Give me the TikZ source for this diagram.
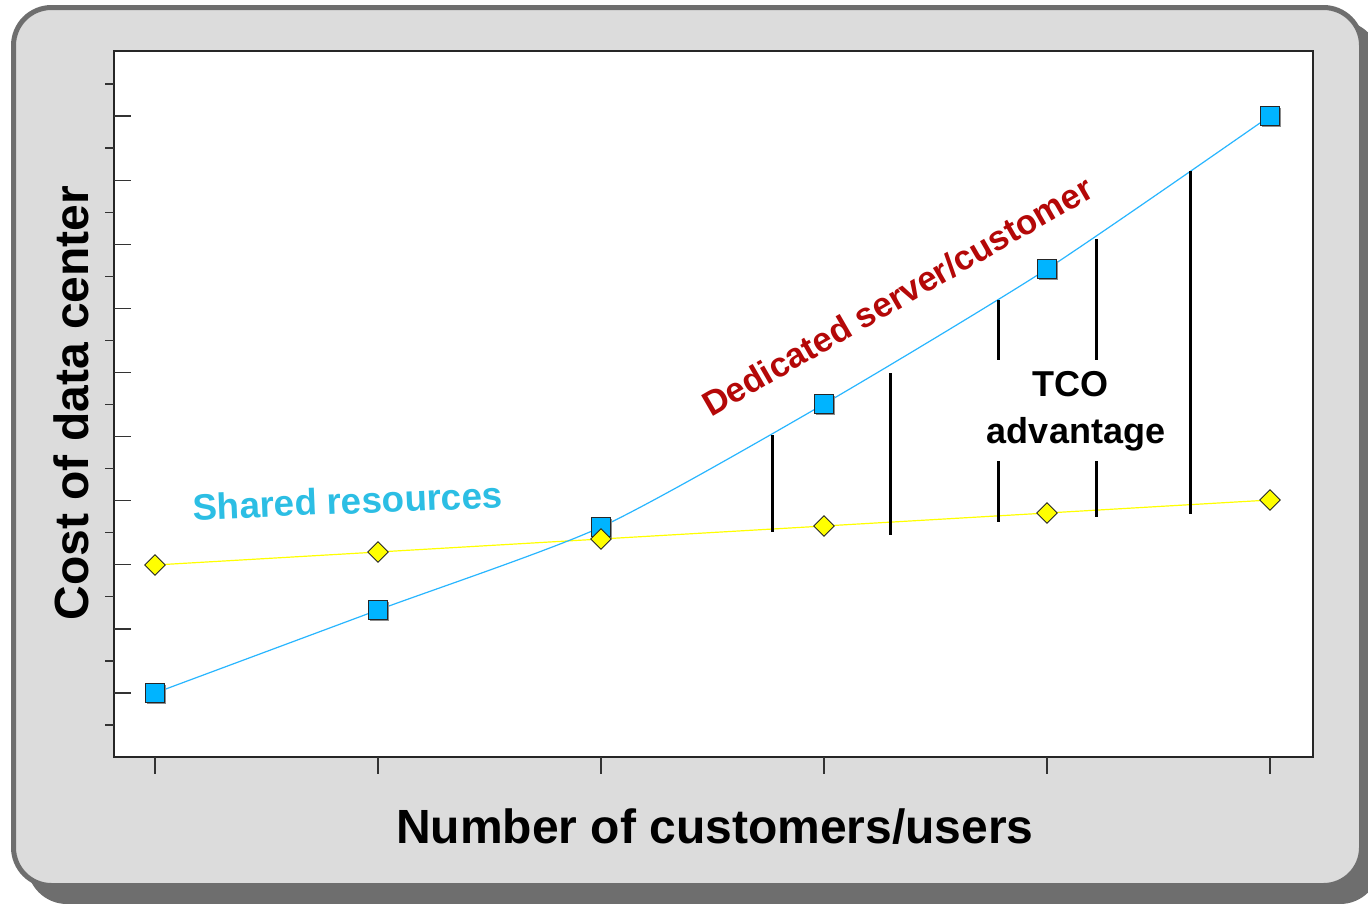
\documentclass[tikz,border=0pt]{standalone}
\usepackage{fontspec}
\setmainfont{Liberation Sans}
\usetikzlibrary{shapes.geometric}
\definecolor{framegray}{RGB}{110,110,110}
\definecolor{panelgray}{RGB}{220,220,220}
\definecolor{sqblue}{RGB}{0,180,255}
\definecolor{lineblue}{RGB}{40,182,255}
\definecolor{shyellow}{RGB}{255,255,0}
\definecolor{dedred}{RGB}{180,8,8}
\definecolor{sharedcyan}{RGB}{44,190,228}
\tikzset{
  sqmark/.style={rectangle, minimum size=19pt, inner sep=0pt, fill=sqblue, draw=black!85, line width=1.1pt},
  sqshadow/.style={rectangle, minimum size=19pt, inner sep=0pt, fill=black!45},
  dmmark/.style={diamond, minimum size=21pt, inner sep=0pt, fill=shyellow, draw=black!85, line width=0.9pt},
  dedline/.style={draw=lineblue, line width=1.2pt},
  shline/.style={draw=shyellow, line width=1.2pt},
  tcoline/.style={draw=black, line width=3pt},
  tickline/.style={draw=black!80, line width=1.3pt},
  bigtxt/.style={font=\bfseries\fontsize{48}{56}\selectfont, inner sep=0pt},
  midtxt/.style={font=\bfseries\fontsize{36}{42}\selectfont, inner sep=0pt},
}
\begin{document}
\begin{tikzpicture}[x=1pt,y=-1pt]
\useasboundingbox (0,0) rectangle (1368,903);
% frame with shadow
\fill[framegray, rounded corners=40pt] (27,21) rectangle (1380,904);
\draw[framegray, fill=panelgray, line width=5pt, rounded corners=38pt] (13.5,7.5) rectangle (1361.5,885.5);
% plot area
\draw[fill=white, draw=black!85, line width=1.4pt] (114,51) rectangle (1313,757);
% y ticks
\foreach \i in {1,...,21}{
  \pgfmathsetmacro{\yy}{51.95+32.05*\i}
  \ifodd\i
    \draw[tickline] (105,\yy) -- (114,\yy);
  \else
    \draw[tickline] (114,\yy) -- (131,\yy);
  \fi
}
% x ticks
\foreach \xx in {155,378,601,824,1047,1270}{
  \draw[tickline] (\xx,757) -- (\xx,774);
}
% data coordinates
\coordinate (d1) at (155,693);
\coordinate (d2) at (378,610);
\coordinate (d3) at (601,527);
\coordinate (d4) at (824,404);
\coordinate (d5) at (1047,269);
\coordinate (d6) at (1270,116);
\coordinate (s1) at (155,565);
\coordinate (s2) at (378,552);
\coordinate (s3) at (601,539);
\coordinate (s4) at (824,526);
\coordinate (s5) at (1047,513);
\coordinate (s6) at (1270,500);
% series lines
\draw[shline] (s1) -- (s2) -- (s3) -- (s4) -- (s5) -- (s6);
\draw[dedline] plot[smooth, tension=0.4] coordinates {(d1) (d2) (d3) (d4) (d5) (d6)};
% TCO bars
\draw[tcoline] (772,435) -- (772,532);
\draw[tcoline] (890,373) -- (890,535);
\draw[tcoline] (998,300) -- (998,360);
\draw[tcoline] (998,461) -- (998,522);
\draw[tcoline] (1096,239) -- (1096,360);
\draw[tcoline] (1096,461) -- (1096,517);
\draw[tcoline] (1190,171) -- (1190,514);
% markers
\foreach \n in {d1,d2,d3,d4,d5,d6}{
  \node[sqshadow] at ([shift={(1.5pt,-1.5pt)}]\n) {};
  \node[sqmark] (m\n) at (\n) {};
}
\foreach \n in {s1,s2,s3,s4,s5,s6}{
  \node[dmmark] (m\n) at (\n) {};
}
% labels
\node[bigtxt, anchor=base] (xlab) at (715,843) {Number of customers/users};
\node[bigtxt, rotate=90, anchor=base] (ylab) at (88,403) {Cost of data center};
\node[midtxt, anchor=base] (tco1) at (1070,396) {TCO};
\node[midtxt, anchor=base] (tco2) at (1076,443) {advantage};
\node[font=\bfseries\fontsize{36.7}{42}\selectfont, inner sep=0pt, text=sharedcyan, rotate=2.3, anchor=base west] (shlab) at (193,520) {Shared resources};
\node[font=\bfseries\fontsize{34.6}{40}\selectfont, inner sep=0pt, text=dedred, rotate=30, anchor=base west] (dedlab) at (711,418) {Dedicated server/customer};
\end{tikzpicture}
\end{document}
